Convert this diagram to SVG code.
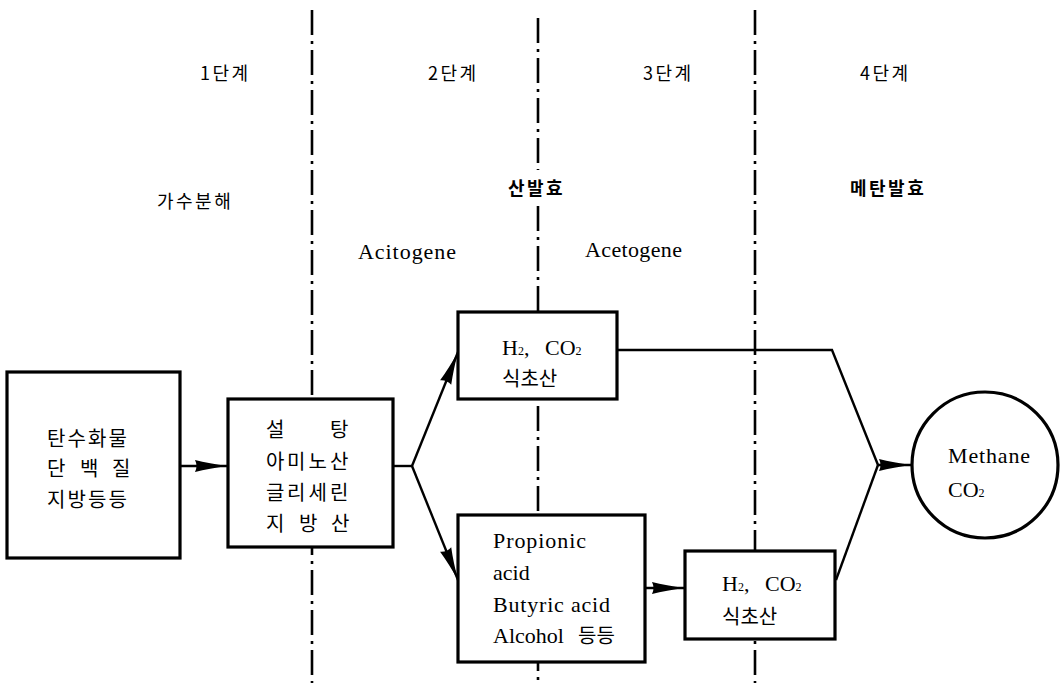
<svg xmlns="http://www.w3.org/2000/svg" width="1060" height="683" viewBox="0 0 1060 683">
<defs>
<style>
.sep{fill:none;stroke:#000;stroke-width:2.6;stroke-dasharray:25 6 3 6;}
.box{fill:#fff;stroke:#000;stroke-width:3.2;}
.ln{fill:none;stroke:#000;stroke-width:2.4;}
.ko{font-family:"Noto Sans CJK KR","Noto Sans",sans-serif;font-size:20px;fill:#000;}
.lab{font-family:"Noto Sans CJK KR","Noto Sans",sans-serif;font-size:18px;fill:#000;letter-spacing:2.5px;}
.bold{font-weight:bold;}
.en{font-family:"Liberation Serif","Times New Roman",serif;font-size:22px;fill:#000;}
.sub{font-size:12px;}
</style>
<marker id="ah" markerUnits="userSpaceOnUse" markerWidth="36" markerHeight="14" refX="33" refY="7" orient="auto">
<path d="M0,1 Q14,4.5 33,7 Q14,9.5 0,13 Q3,7 0,1 Z" fill="#000"/>
</marker>
</defs>
<rect width="1060" height="683" fill="#fff"/>

<g id="separators">
<line class="sep" x1="312" y1="10" x2="312" y2="683"/>
<line class="sep" x1="538" y1="18" x2="538" y2="170"/>
<line class="sep" x1="538" y1="206" x2="538" y2="683"/>
<line class="sep" x1="755" y1="10" x2="755" y2="683"/>
</g>

<g id="stage-labels">
<text class="lab" x="200" y="80">1단계</text>
<text class="lab" x="428" y="80">2단계</text>
<text class="lab" x="643" y="80">3단계</text>
<text class="lab" x="860" y="80">4단계</text>
<text class="lab" x="157" y="208">가수분해</text>
<text class="lab bold" x="508" y="195">산발효</text>
<text class="lab bold" x="850" y="195">메탄발효</text>
<text class="en" x="358" y="259" textLength="98">Acitogene</text>
<text class="en" x="585" y="257" textLength="97">Acetogene</text>
</g>

<g id="connectors">
<line class="ln" x1="180" y1="466" x2="228" y2="466" marker-end="url(#ah)"/>
<polyline class="ln" points="393,466 412,466"/>
<line class="ln" x1="412" y1="466" x2="458" y2="352" marker-end="url(#ah)"/>
<line class="ln" x1="412" y1="466" x2="458" y2="580" marker-end="url(#ah)"/>
<line class="ln" x1="645" y1="588" x2="685" y2="588" marker-end="url(#ah)"/>
<polyline class="ln" points="617,350 832,350 878,465"/>
<line class="ln" x1="836" y1="580" x2="878" y2="465"/>
<line class="ln" x1="878" y1="465" x2="912" y2="465" marker-end="url(#ah)"/>
</g>

<g id="node-substrate">
<rect class="box" x="7" y="372" width="173" height="186"/>
<text class="ko" x="47 67.5 88 108.5" y="446">탄수화물</text>
<text class="ko" x="47 80 112" y="476">단백질</text>
<text class="ko" x="47 67.5 88 108.5" y="507">지방등등</text>
</g>

<g id="node-monomers">
<rect class="box" x="228" y="399" width="165" height="148"/>
<text class="ko" x="266 330" y="437">설탕</text>
<text class="ko" x="266 287 308.5 330" y="469">아미노산</text>
<text class="ko" x="266 287 308.5 330" y="500">글리세린</text>
<text class="ko" x="266 299 331" y="531">지방산</text>
</g>

<g id="node-h2-acetic-1">
<rect class="box" x="458" y="312" width="159" height="87"/>
<text class="en" x="502" y="355">H<tspan class="sub">2</tspan>,  <tspan x="545">CO</tspan><tspan class="sub">2</tspan></text>
<text class="ko" x="502" y="386">식초산</text>
</g>

<g id="node-acids">
<rect class="box" x="458" y="515" width="187" height="147"/>
<text class="en" x="493" y="548" textLength="93">Propionic</text>
<text class="en" x="493" y="580">acid</text>
<text class="en" x="493" y="612" textLength="117">Butyric acid</text>
<text class="en" x="493" y="643">Alcohol <tspan class="ko" x="578">등등</tspan></text>
</g>

<g id="node-h2-acetic-2">
<rect class="box" x="685" y="551" width="150" height="88"/>
<text class="en" x="722" y="591">H<tspan class="sub">2</tspan>,  <tspan x="765">CO</tspan><tspan class="sub">2</tspan></text>
<text class="ko" x="722" y="624">식초산</text>
</g>

<g id="node-methane">
<circle class="box" cx="985" cy="465" r="73"/>
<text class="en" x="948" y="463" textLength="82">Methane</text>
<text class="en" x="948" y="497">CO<tspan class="sub">2</tspan></text>
</g>
</svg>
